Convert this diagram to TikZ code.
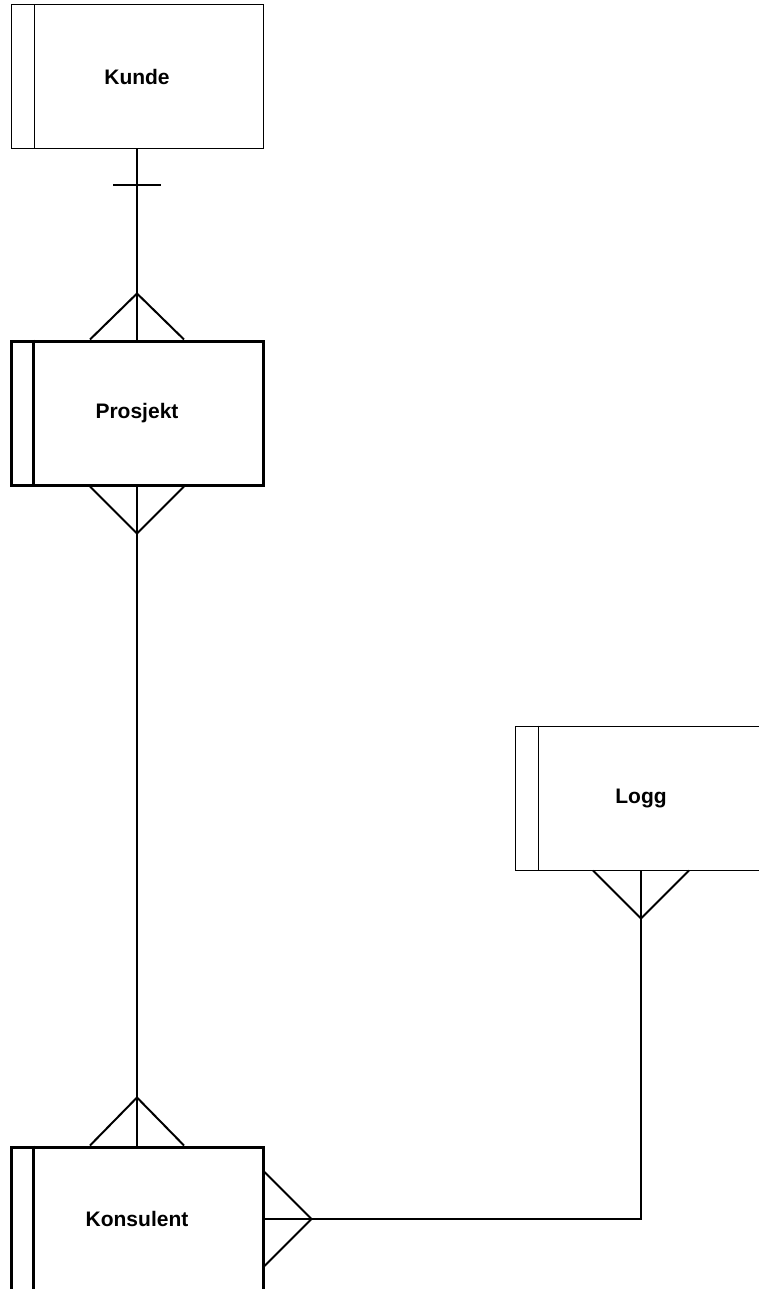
\documentclass[tikz,border=0pt]{standalone}
\usepackage{fontspec}
\setmainfont{Liberation Sans}
\usetikzlibrary{positioning}

\begin{document}
\begin{tikzpicture}[
  x=1pt, y=-1pt,
  node distance=190pt,
  entity/.style={draw,line width=1pt,minimum width=252pt,minimum height=144pt,
    font=\bfseries\fontsize{21}{25}\selectfont},
  weak/.style={line width=3pt},
  link/.style={line width=2pt}
]
  \useasboundingbox (0,0) rectangle (759,1289);

  \node[entity] (kunde) at (137,77) {Kunde};
  \node[entity,weak,below=of kunde] (prosjekt) {Prosjekt};
  \node[entity,weak,below=659pt of prosjekt] (konsulent) {Konsulent};
  \node[entity] (logg) at (641,798) {Logg};

  % key column on the left of every box
  \foreach \e/\w in {kunde/1pt,prosjekt/3pt,konsulent/3pt,logg/1pt}
    \draw[line width=\w] ([xshift=24pt]\e.north west) -- ([xshift=24pt]\e.south west);

  \draw[link] (kunde) -- (prosjekt);
  \draw[link] (prosjekt) -- (konsulent);
  \draw[link] (konsulent) -| (logg);

  % exactly one
  \draw[link] ([yshift=-36pt]kunde.south) ++(-24,0) -- ++(48,0);
  % many
  \draw[link] (prosjekt.north) ++(-47,0) -- ++(47,-46) -- ++(47,46);
  \draw[link] (prosjekt.south) ++(-47,0) -- ++(47,47) -- ++(47,-47);
  \draw[link] (konsulent.north) ++(-47,0) -- ++(47,-48) -- ++(47,48);
  \draw[link] (konsulent.east) ++(0,-47) -- ++(47,47) -- ++(-47,47);
  \draw[link] (logg.south) ++(-48,0) -- ++(48,48) -- ++(48,-48);
\end{tikzpicture}
\end{document}
